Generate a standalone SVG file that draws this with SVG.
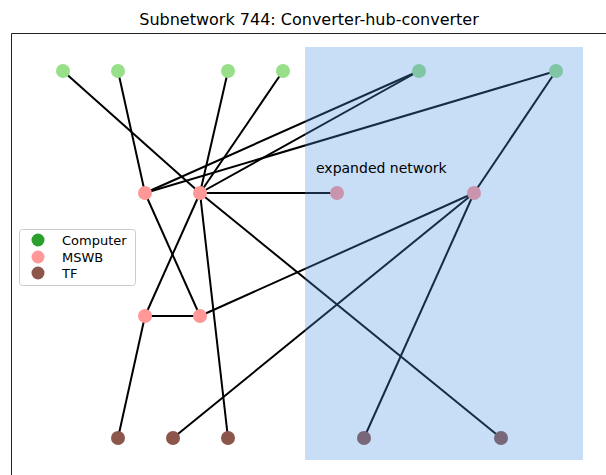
<svg xmlns="http://www.w3.org/2000/svg" width="606" height="475" viewBox="0 0 606 475">
<style>
.e{stroke:#000;stroke-width:2;fill:none}
.c{fill:#98df8a}
.m{fill:#ff9896}
.t{fill:#8c564b}
text{font-family:"DejaVu Sans",sans-serif;fill:#000}
</style>
<rect width="606" height="475" fill="#fff"/>
<text x="309" y="25" font-size="16" text-anchor="middle">Subnetwork 744: Converter-hub-converter</text>
<path d="M11.5,475 V33.5 H606" stroke="#222" stroke-width="1" fill="none"/>
<g id="edges">
<line class="e" x1="63" y1="71" x2="200" y2="193"/>
<line class="e" x1="118" y1="71" x2="145" y2="193"/>
<line class="e" x1="228" y1="71" x2="200" y2="193"/>
<line class="e" x1="283" y1="71" x2="200" y2="193"/>
<line class="e" x1="419" y1="71" x2="145" y2="193"/>
<line class="e" x1="419" y1="71" x2="200" y2="193"/>
<line class="e" x1="556" y1="71" x2="145" y2="193"/>
<line class="e" x1="556" y1="71" x2="474" y2="193"/>
<line class="e" x1="200" y1="193" x2="337" y2="193"/>
<line class="e" x1="200" y1="193" x2="501" y2="438"/>
<line class="e" x1="200" y1="193" x2="145" y2="316"/>
<line class="e" x1="200" y1="193" x2="228" y2="438"/>
<line class="e" x1="145" y1="193" x2="200" y2="316"/>
<line class="e" x1="145" y1="316" x2="200" y2="316"/>
<line class="e" x1="200" y1="316" x2="474" y2="193"/>
<line class="e" x1="145" y1="316" x2="118" y2="438"/>
<line class="e" x1="474" y1="193" x2="173" y2="438"/>
<line class="e" x1="474" y1="193" x2="364" y2="438"/>
</g>
<g id="computer1"><circle class="c" cx="63" cy="71" r="7"/></g>
<g id="computer2"><circle class="c" cx="118" cy="71" r="7"/></g>
<g id="computer3"><circle class="c" cx="228" cy="71" r="7"/></g>
<g id="computer4"><circle class="c" cx="283" cy="71" r="7"/></g>
<g id="computer5"><circle class="c" cx="419" cy="71" r="7"/></g>
<g id="computer6"><circle class="c" cx="556" cy="71" r="7"/></g>
<g id="mswb1"><circle class="m" cx="145" cy="193" r="7"/></g>
<g id="mswb2"><circle class="m" cx="200" cy="193" r="7"/></g>
<g id="mswb3"><circle class="m" cx="337" cy="193" r="7"/></g>
<g id="mswb4"><circle class="m" cx="474" cy="193" r="7"/></g>
<g id="mswb5"><circle class="m" cx="145" cy="316" r="7"/></g>
<g id="mswb6"><circle class="m" cx="200" cy="316" r="7"/></g>
<g id="tf1"><circle class="t" cx="118" cy="438" r="7"/></g>
<g id="tf2"><circle class="t" cx="173" cy="438" r="7"/></g>
<g id="tf3"><circle class="t" cx="228" cy="438" r="7"/></g>
<g id="tf4"><circle class="t" cx="364" cy="438" r="7"/></g>
<g id="tf5"><circle class="t" cx="501" cy="438" r="7"/></g>
<g id="expanded">
<rect x="305" y="47" width="278" height="413" fill="#4a90e2" fill-opacity="0.3"/>
<text x="316" y="173" font-size="14">expanded network</text>
</g>
<g id="legend">
<rect x="19.5" y="229.5" width="116" height="56" rx="3" fill="#fff" fill-opacity="0.8" stroke="#ccc" stroke-width="1"/>
<circle cx="38" cy="240" r="6.5" fill="#2ca02c"/>
<circle cx="38" cy="257" r="6.5" fill="#ff9896"/>
<circle cx="38" cy="273" r="6.5" fill="#8c564b"/>
<text x="62" y="245" font-size="13">Computer</text>
<text x="62" y="262" font-size="13">MSWB</text>
<text x="62" y="278" font-size="13">TF</text>
</g>
</svg>
